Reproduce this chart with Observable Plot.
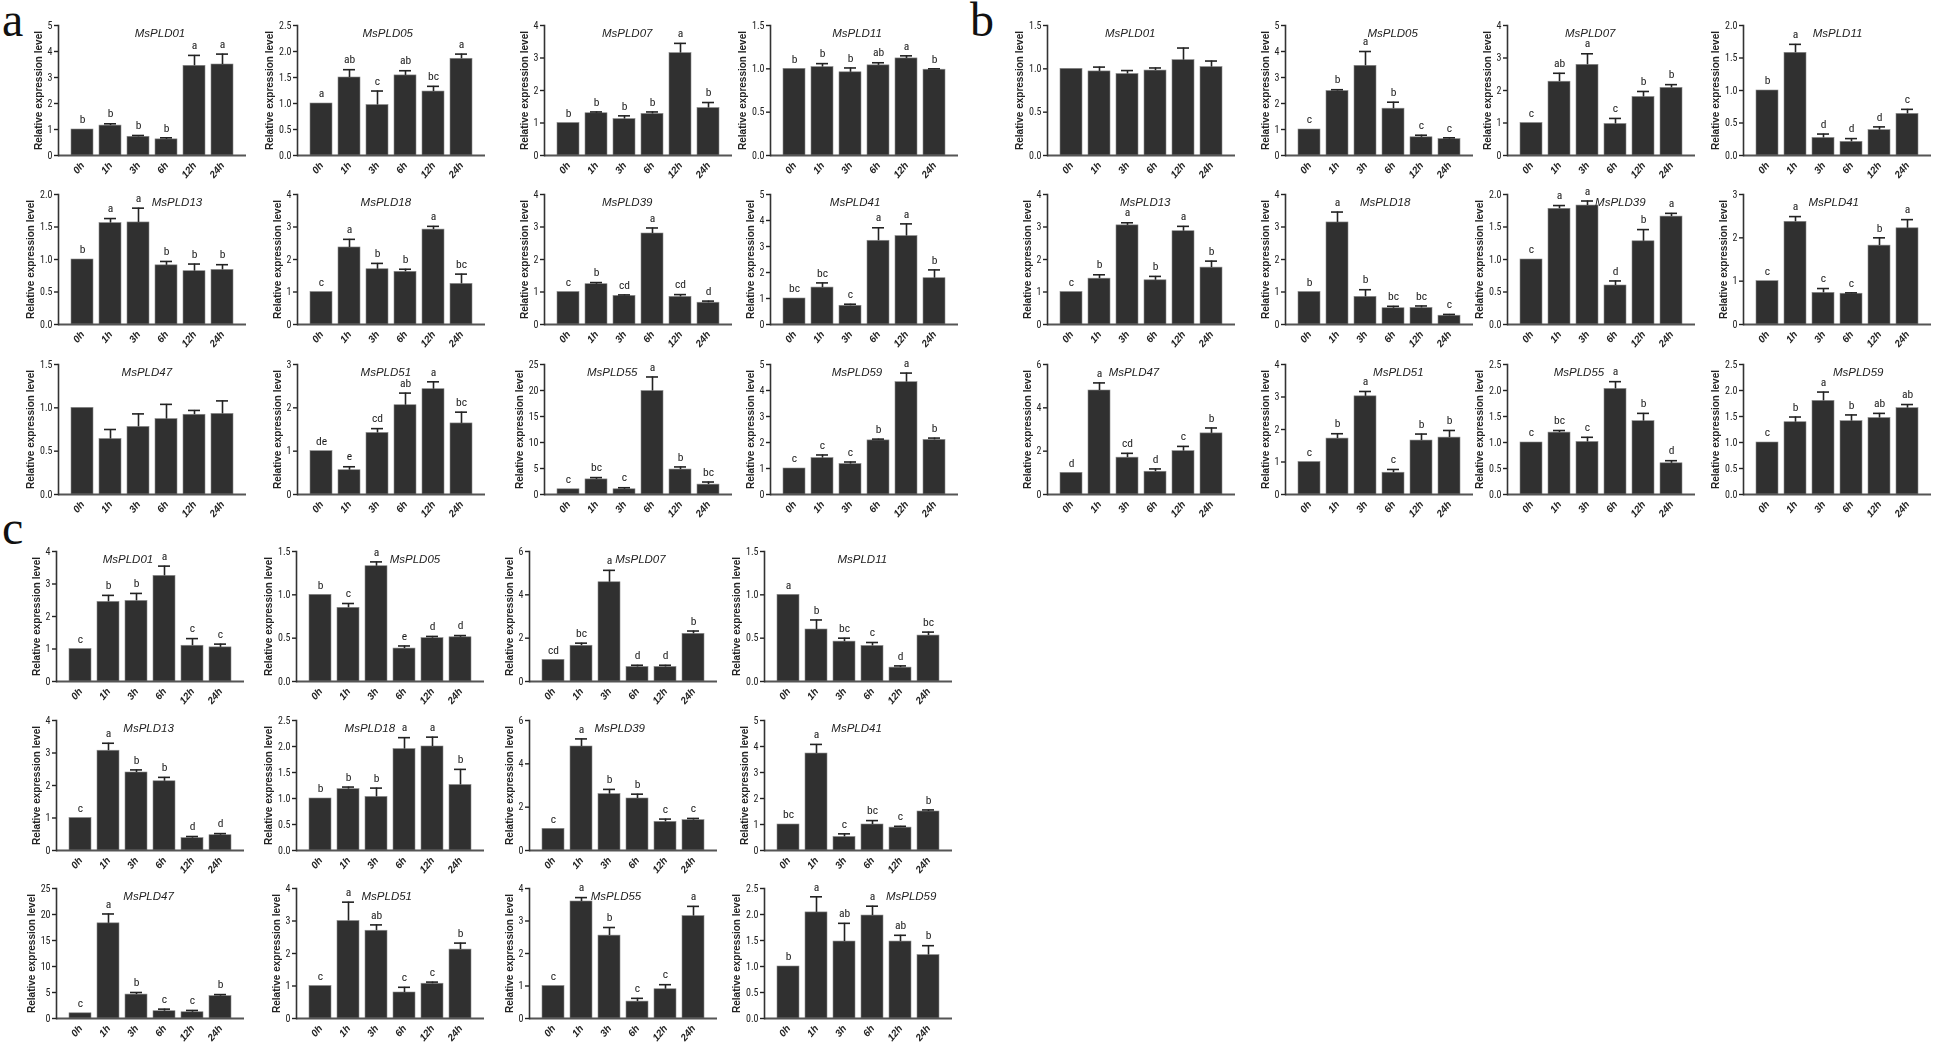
<!DOCTYPE html>
<html><head><meta charset="utf-8">
<script src="https://cdn.jsdelivr.net/npm/d3@7"></script>
<script src="https://cdn.jsdelivr.net/npm/@observablehq/plot@0.6"></script>
<style>
html,body{margin:0;padding:0;background:#fff;}
body{width:1944px;height:1047px;overflow:hidden;position:relative;}
.cell{position:absolute;will-change:transform;}
.cell svg{overflow:visible;}
.pl g[aria-label="x-axis tick label"] text{font-style:italic;font-weight:bold;font-family:"Liberation Sans",Arial,sans-serif;}
.pl g[aria-label="y-axis tick label"] text{font-family:"Liberation Sans Narrow","Arial Narrow","Roboto Condensed","Liberation Sans",sans-serif;font-stretch:condensed;}
#letters{position:absolute;left:0;top:0;}
</style></head><body>
<svg id="letters" width="1944" height="1047"></svg>
<script>
// ---------------- DATA ----------------
const times = ["0h","1h","3h","6h","12h","24h"];
const genes = ["MsPLD01","MsPLD05","MsPLD07","MsPLD11","MsPLD13","MsPLD18","MsPLD39","MsPLD41","MsPLD47","MsPLD51","MsPLD55","MsPLD59"];
const panelNames = ["a","b","c"];
const yTitle = "Relative expression level";

// Panel a
const aMean = [
 [1.00,1.15,0.72,0.62,3.45,3.50],
 [1.00,1.50,0.97,1.54,1.23,1.86],
 [1.00,1.30,1.12,1.28,3.15,1.46],
 [1.00,1.02,0.96,1.04,1.12,0.99],
 [1.00,1.56,1.57,0.91,0.82,0.84],
 [1.00,2.37,1.70,1.62,2.92,1.25],
 [1.00,1.24,0.88,2.80,0.85,0.67],
 [1.00,1.42,0.72,3.22,3.40,1.78],
 [1.00,0.64,0.78,0.87,0.92,0.93],
 [1.00,0.56,1.42,2.06,2.43,1.64],
 [1.00,2.90,1.00,19.9,4.80,1.90],
 [1.00,1.40,1.17,2.08,4.32,2.10]
];
const aErr = [
 [0,0.07,0.05,0.06,0.40,0.40],
 [0,0.15,0.27,0.09,0.10,0.09],
 [0,0.04,0.10,0.06,0.30,0.17],
 [0,0.04,0.05,0.03,0.03,0.01],
 [0,0.07,0.22,0.06,0.11,0.08],
 [0,0.25,0.18,0.08,0.10,0.30],
 [0,0.05,0.03,0.17,0.07,0.05],
 [0,0.18,0.06,0.50,0.47,0.32],
 [0,0.11,0.15,0.17,0.05,0.15],
 [0,0.08,0.10,0.28,0.17,0.26],
 [0,0.35,0.30,2.70,0.50,0.50],
 [0,0.12,0.08,0.05,0.35,0.07]
];
const aLetters = [
 ["b","b","b","b","a","a"],
 ["a","ab","c","ab","bc","a"],
 ["b","b","b","b","a","b"],
 ["b","b","b","ab","a","b"],
 ["b","a","a","b","b","b"],
 ["c","a","b","b","a","bc"],
 ["c","b","cd","a","cd","d"],
 ["bc","bc","c","a","a","b"],
 ["","","","","",""],
 ["de","e","cd","ab","a","bc"],
 ["c","bc","c","a","b","bc"],
 ["c","c","c","b","a","b"]
];
const aYMax = [5,2.5,4,1.5,2,4,4,5,1.5,3,25,5];
const aYStep = [1,0.5,1,0.5,0.5,1,1,1,0.5,1,5,1];

// Panel b
const bMean = [
 [1.00,0.97,0.94,0.98,1.10,1.02],
 [1.00,2.48,3.45,1.80,0.70,0.63],
 [1.00,2.27,2.79,0.97,1.80,2.08],
 [1.00,1.58,0.27,0.21,0.39,0.64],
 [1.00,1.41,3.05,1.36,2.87,1.75],
 [1.00,3.14,0.85,0.50,0.51,0.27],
 [1.00,1.78,1.83,0.60,1.28,1.66],
 [1.00,2.37,0.73,0.71,1.82,2.22],
 [1.00,4.80,1.70,1.05,2.00,2.82],
 [1.00,1.72,3.02,0.67,1.66,1.75],
 [1.00,1.19,1.01,2.03,1.41,0.60],
 [1.00,1.39,1.80,1.41,1.47,1.66]
];
const bErr = [
 [0,0.05,0.04,0.03,0.14,0.07],
 [0,0.05,0.55,0.25,0.08,0.05],
 [0,0.26,0.34,0.17,0.17,0.10],
 [0,0.13,0.06,0.05,0.05,0.07],
 [0,0.12,0.08,0.12,0.15,0.20],
 [0,0.32,0.22,0.06,0.06,0.04],
 [0,0.05,0.07,0.07,0.18,0.05],
 [0,0.12,0.10,0.02,0.18,0.20],
 [0,0.35,0.20,0.13,0.22,0.25],
 [0,0.15,0.15,0.10,0.20,0.22],
 [0,0.04,0.09,0.14,0.15,0.05],
 [0,0.10,0.17,0.12,0.09,0.07]
];
const bLetters = [
 ["","","","","",""],
 ["c","b","a","b","c","c"],
 ["c","ab","a","c","b","b"],
 ["b","a","d","d","d","c"],
 ["c","b","a","b","a","b"],
 ["b","a","b","bc","bc","c"],
 ["c","a","a","d","b","a"],
 ["c","a","c","c","b","a"],
 ["d","a","cd","d","c","b"],
 ["c","b","a","c","b","b"],
 ["c","bc","c","a","b","d"],
 ["c","b","a","b","ab","ab"]
];
const bYMax = [1.5,5,4,2,4,4,2,3,6,4,2.5,2.5];
const bYStep = [0.5,1,1,0.5,1,1,0.5,1,2,1,0.5,0.5];

// Panel c
const cMean = [
 [1.00,2.45,2.48,3.25,1.10,1.05],
 [1.00,0.85,1.33,0.38,0.50,0.51],
 [1.00,1.65,4.58,0.67,0.67,2.20],
 [1.00,0.60,0.46,0.41,0.16,0.53],
 [1.00,3.07,2.40,2.13,0.38,0.47],
 [1.00,1.18,1.03,1.95,2.00,1.26],
 [1.00,4.80,2.60,2.40,1.32,1.40],
 [1.00,3.73,0.52,1.00,0.88,1.50],
 [1.00,18.3,4.60,1.40,1.20,4.30],
 [1.00,3.00,2.70,0.80,1.07,2.12],
 [1.00,3.60,2.55,0.52,0.90,3.15],
 [1.00,2.04,1.48,1.98,1.48,1.22]
];
const cErr = [
 [0,0.20,0.23,0.30,0.22,0.10],
 [0,0.05,0.05,0.03,0.02,0.02],
 [0,0.12,0.55,0.08,0.08,0.13],
 [0,0.11,0.04,0.04,0.02,0.04],
 [0,0.23,0.08,0.12,0.05,0.05],
 [0,0.04,0.17,0.22,0.18,0.30],
 [0,0.35,0.22,0.20,0.13,0.08],
 [0,0.35,0.12,0.15,0.05,0.06],
 [0,1.80,0.40,0.40,0.35,0.30],
 [0,0.58,0.18,0.16,0.05,0.20],
 [0,0.12,0.25,0.10,0.14,0.30],
 [0,0.30,0.35,0.18,0.12,0.18]
];
const cLetters = [
 ["c","b","b","a","c","c"],
 ["b","c","a","e","d","d"],
 ["cd","bc","a","d","d","b"],
 ["a","b","bc","c","d","bc"],
 ["c","a","b","b","d","d"],
 ["b","b","b","a","a","b"],
 ["c","a","b","b","c","c"],
 ["bc","a","c","bc","c","b"],
 ["c","a","b","c","c","b"],
 ["c","a","ab","c","c","b"],
 ["c","a","b","c","c","a"],
 ["b","a","ab","a","ab","b"]
];
const cYMax = [4,1.5,6,1.5,4,2.5,6,5,25,4,4,2.5];
const cYStep = [1,0.5,2,0.5,1,0.5,2,1,5,1,1,0.5];

// ---------------- LAYOUT ----------------
const panels = [
  {name:"a", mean:aMean, err:aErr, letters:aLetters, ymax:aYMax, ystep:aYStep,
   axisX:[58,297,544,770], tops:[25,194,364],
   titleFrac:[0.54,0.48,0.44,0.46, 0.63,0.47,0.44,0.45, 0.47,0.47,0.36,0.46]},
  {name:"b", mean:bMean, err:bErr, letters:bLetters, ymax:bYMax, ystep:bYStep,
   axisX:[1047,1285,1507,1743], tops:[25,194,364],
   titleFrac:[0.44,0.57,0.44,0.50, 0.52,0.53,0.60,0.48, 0.46,0.60,0.38,0.61]},
  {name:"c", mean:cMean, err:cErr, letters:cLetters, ymax:cYMax, ystep:cYStep,
   axisX:[56,296,529,764], tops:[551,720,888],
   titleFrac:[0.38,0.63,0.59,0.52, 0.49,0.39,0.48,0.49, 0.49,0.48,0.46,0.78]}
];
const letterPos = {a:[2,36], b:[970,36], c:[2,544]};
const plotW = 188, plotH = 130;
const mL = 62, mR = 6, mT = 14, mB = 40;
const narrow = '"Liberation Sans Narrow","Arial Narrow","Roboto Condensed","Liberation Sans",sans-serif';
const sans = '"Liberation Sans",Arial,sans-serif';

function cell(p, k) {
  const col = k % 4, row = Math.floor(k / 4);
  const ymax = p.ymax[k], ystep = p.ystep[k];
  const rows = times.map((t, i) => ({t, v: p.mean[k][i], e: p.err[k][i], hi: p.mean[k][i] + p.err[k][i], lab: p.letters[k][i]}));
  const errRows = rows.filter(d => d.e > 0);
  const ticks = d3.range(0, ymax + ystep / 2, ystep);
  const fmt = ystep < 1 ? d3.format(".1f") : d3.format("d");
  const maxLab = d3.max(ticks, t => { const s = fmt(t); return s.replace(".", "").length * 5.2 + (s.includes(".") ? 2.5 : 0); });
  const titleOff = 4 + 2 + maxLab + 3 + 5.5;
  const chart = Plot.plot({
    width: mL + plotW + mR, height: mT + plotH + mB,
    marginLeft: mL, marginRight: mR, marginTop: mT, marginBottom: mB,
    className: "pl",
    style: {fontFamily: sans, fontSize: "10px", color: "#222", background: "transparent", overflow: "visible"},
    x: {domain: times, paddingInner: 0.22, paddingOuter: 0.45},
    y: {domain: [0, ymax]},
    marks: [
      Plot.barY(rows, {x: "t", y: "v", fill: "#303030", stroke: "#8a8a8a", strokeWidth: 0.6}),
      Plot.ruleX(errRows, {x: "t", y1: "v", y2: "hi", stroke: "#222", strokeWidth: 1.6}),
      Plot.tickY(errRows, {x: "t", y: "hi", stroke: "#222", strokeWidth: 1.6, insetLeft: 5, insetRight: 5}),
      Plot.text(rows, {x: "t", y: "hi", text: "lab", dy: -10, fontSize: 11.5, fontFamily: narrow, fill: "#1a1a1a"}),
      Plot.ruleY([0], {stroke: "#555", strokeWidth: 2.2}),
      Plot.frame({anchor: "left", stroke: "#333", strokeWidth: 1.6}),
      Plot.axisY({ticks, tickFormat: fmt, tickSize: 4, tickPadding: 2, label: null, fontSize: 10, strokeWidth: 1.4}),
      Plot.axisX({tickRotate: -50, tickSize: 0, tickPadding: 8, label: null, fontSize: 10}),
      Plot.text([genes[k]], {frameAnchor: "top-left", textAnchor: "middle", lineAnchor: "middle", dx: p.titleFrac[k] * plotW, dy: 8, fontStyle: "italic", fontSize: 11.5, fill: "#222"}),
      Plot.text([yTitle], {frameAnchor: "left", textAnchor: "middle", lineAnchor: "middle", rotate: -90, dx: -titleOff, fontWeight: "bold", fontSize: 10, fill: "#222"})
    ]
  });
  const div = document.createElement("div");
  div.className = "cell";
  div.style.left = (p.axisX[col] - mL) + "px";
  div.style.top = (p.tops[row] - mT) + "px";
  div.appendChild(chart);
  document.body.appendChild(div);
}

panels.forEach(p => { for (let k = 0; k < 12; k++) cell(p, k); });

const ls = d3.select("#letters");
panelNames.forEach(n => {
  ls.append("text").attr("x", letterPos[n][0]).attr("y", letterPos[n][1])
    .attr("font-family", '"Liberation Serif","Times New Roman",serif').attr("font-size", 48).attr("fill", "#111").text(n);
});
</script>
</body></html>
